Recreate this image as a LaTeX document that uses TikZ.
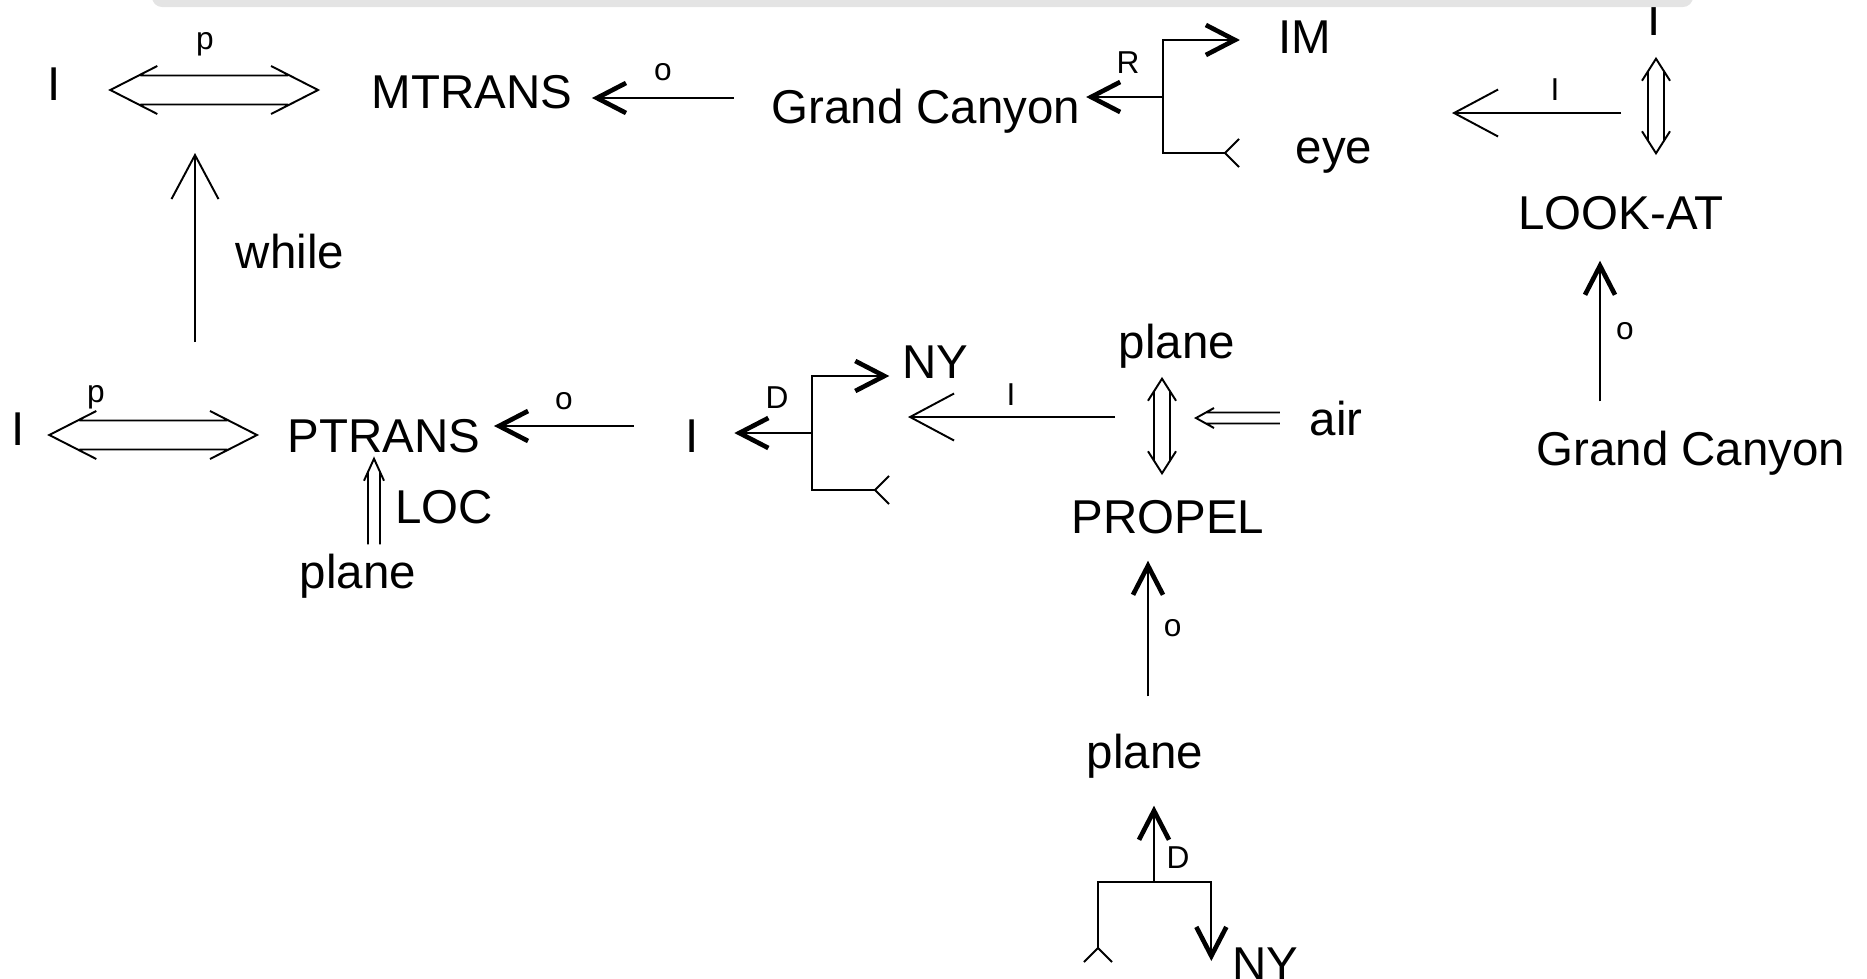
\documentclass[tikz,border=0pt]{standalone}
\usepackage{fontspec}
\setmainfont{Liberation Sans}
\usetikzlibrary{arrows.meta,positioning,calc}
\definecolor{barcol}{HTML}{E4E4E4}
\tikzset{
  lbl/.style={inner sep=0pt, anchor=base, text height=0.34cm, text depth=0.10cm, font=\fontsize{13.5}{16}\selectfont},
  tag/.style={inner sep=0pt, anchor=base, font=\fontsize{9}{11}\selectfont},
  olab/.style={inner sep=0pt, font=\fontsize{9}{11}\selectfont},
  link/.style={line width=0.55pt},
  act/.style={link, -{Straight Barb[length=0.29cm, width=0.30cm, line width=0pt 2.4]}},
  rel/.style={link, -{Straight Barb[length=0.44cm, width=0.47cm]}},
  fork/.style={link, -{Straight Barb[reversed, length=0.14cm, width=0.28cm]}},
  dbl len/.store in=\dbllen, dbl wid/.store in=\dblwid,
  dbl gap/.store in=\dblgap, dbl in/.store in=\dblin,
  bigdbl/.style={dbl len=0.47cm, dbl wid=0.24cm, dbl gap=0.145cm, dbl in=0.30cm},
  smalldbl/.style={dbl len=0.22cm, dbl wid=0.14cm, dbl gap=0.08cm, dbl in=0.126cm},
  locdbl/.style={dbl len=0.22cm, dbl wid=0.10cm, dbl gap=0.06cm, dbl in=0.13cm},
  airdbl/.style={dbl len=0.18cm, dbl wid=0.10cm, dbl gap=0.055cm, dbl in=0.10cm},
  dblone/.style={link, to path={
    ($(\tikztotarget)!\dbllen!(\tikztostart)$) coordinate (dbb)
    ($(\tikztotarget)!\dblin!(\tikztostart)$) coordinate (dbi)
    ($(\tikztostart)!\dblgap!90:(\tikztotarget)$) -- ($(dbi)!\dblgap!90:(\tikztotarget)$)
    ($(\tikztostart)!\dblgap!-90:(\tikztotarget)$) -- ($(dbi)!\dblgap!-90:(\tikztotarget)$)
    ($(dbb)!\dblwid!90:(\tikztotarget)$) -- (\tikztotarget) -- ($(dbb)!\dblwid!-90:(\tikztotarget)$)}},
  dbltwo/.style={link, to path={
    ($(\tikztotarget)!\dbllen!(\tikztostart)$) coordinate (dbb)
    ($(\tikztotarget)!\dblin!(\tikztostart)$) coordinate (dbi)
    ($(\tikztostart)!\dbllen!(\tikztotarget)$) coordinate (dbc)
    ($(\tikztostart)!\dblin!(\tikztotarget)$) coordinate (dbj)
    ($(dbj)!\dblgap!90:(\tikztotarget)$) -- ($(dbi)!\dblgap!90:(\tikztotarget)$)
    ($(dbj)!\dblgap!-90:(\tikztotarget)$) -- ($(dbi)!\dblgap!-90:(\tikztotarget)$)
    ($(dbc)!\dblwid!90:(\tikztotarget)$) -- (\tikztostart) -- ($(dbc)!\dblwid!-90:(\tikztotarget)$)
    ($(dbb)!\dblwid!90:(\tikztotarget)$) -- (\tikztotarget) -- ($(dbb)!\dblwid!-90:(\tikztotarget)$)}},
}
\begin{document}
\begin{tikzpicture}[x=0.01cm, y=-0.01cm]
  \useasboundingbox (0,0) rectangle (1867,978);
  % concepts, top row
  \node[lbl] (i1) at (54,100) {I};
  \node[lbl] (mtrans) at (472,108) {MTRANS};
  \node[lbl] (gc1) at (926,123) {Grand Canyon};
  \node[lbl] (im) at (1305,53) {IM};
  \node[lbl] (eye) at (1334,163) {eye};
  \node[lbl] (i2) at (1654,35) {I};
  \node[lbl] (lookat) at (1621,229) {LOOK-AT};
  \node[lbl] (gc2) at (1691,465) {Grand Canyon};
  \node[lbl] (whl) at (290,268) {while};
  % concepts, lower rows
  \node[lbl] (i3) at (18,445) {I};
  \node[lbl] (ptrans) at (384,452) {PTRANS};
  \node[lbl] (loc) at (444,523) {LOC};
  \node[lbl] (plane1) at (358,588) {plane};
  \node[lbl] (i4) at (692,452) {I};
  \node[lbl] (ny1) at (935,378) {NY};
  \node[lbl] (plane2) at (1177,358) {plane};
  \node[lbl] (air) at (1336,435) {air};
  \node[lbl] (propel) at (1168,533) {PROPEL};
  \node[lbl] (plane3) at (1145,768) {plane};
  \node[lbl] (ny2) at (1265,980) {NY};
  % small tags
  \node[tag] (ptag1) at (205,49) {p};
  \node[tag] (ptag2) at (96,402) {p};
  \node[tag] (rtag) at (1128,73) {R};
  \node[tag] (dtag1) at (777,408) {D};
  \node[tag] (dtag2) at (1178,868) {D};
  \node[tag] (itag1) at (1555,100) {I};
  \node[tag] (itag2) at (1011,405) {I};
  % hubs
  \coordinate (mtx) at (214.5,90);
  \coordinate (ptx) at (153.5,435);
  \coordinate (lkx) at (1656,106);
  \coordinate (prx) at (1162,426);
  \coordinate (rb) at (1163,97);
  \coordinate (db) at (812,433);
  \coordinate (dl) at (1154,882);
  \coordinate (dfree1) at (890,490);
  \coordinate (dfree2) at (1098,963);
  % two-way links
  \draw[dbltwo, bigdbl] ([shift={(49,2)}]i1.east) to ([shift={(-53,-6)}]mtrans.west);
  \draw[dbltwo, bigdbl] ([shift={(24,2)}]i3.east) to ([shift={(-30,-5)}]ptrans.west);
  \draw[dbltwo, smalldbl] ([shift={(2,13)}]i2.south) to ([shift={(35,-41)}]lookat.north);
  \draw[dbltwo, smalldbl] ([shift={(-15,10)}]plane2.south) to ([shift={(-6,-25)}]propel.north);
  % one-way links
  \draw[dblone, locdbl] ([shift={(16,-9)}]plane1.north) to ([shift={(-10,-4)}]ptrans.south);
  \draw[dblone, airdbl] ([shift={(-29,-5)}]air.west) to ([shift={(34,-8)}]prx);
  % acts
  \draw[act] ([shift={(-37,-13)}]gc1.west) -- node[olab, above=0.16cm] {o} ([shift={(19,2)}]mtrans.east);
  \draw[act] ([shift={(-51,-14)}]i4.west) -- node[olab, above=0.15cm] {o} ([shift={(13,-14)}]ptrans.east);
  \draw[act] ([shift={(-91,-29)}]gc2.north) -- node[olab, right=0.15cm] {o} ([shift={(-21,21)}]lookat.south);
  \draw[act] ([shift={(3,-37)}]plane3.north) -- node[olab, right=0.15cm] {o} ([shift={(-20,17)}]propel.south);
  % R branch
  \draw[act] (rb) -- ([shift={(5,-14)}]gc1.east);
  \draw[act] (rb) |- ([shift={(-38,-1)}]im.west);
  \draw[fork] (rb) |- ([shift={(-55,2)}]eye.west);
  % D branches
  \draw[act] (db) -- ([shift={(35,-7)}]i4.east);
  \draw[act] (db) |- ([shift={(-12,10)}]ny1.west);
  \draw[fork] (db) |- (dfree1);
  \draw[act] (dl) -- ([shift={(9,27)}]plane3.south);
  \draw[act] (dl) -| ([shift={(-20,-7)}]ny2.west);
  \draw[fork] (dl) -| (dfree2);
  % instruments and time link
  \draw[rel] ([shift={(-35,7)}]lkx) -- ([shift={(289,16)}]rb);
  \draw[rel] ([shift={(-47,-9)}]prx) -- ([shift={(96,-16)}]db);
  \draw[rel] ([shift={(41.5,-93)}]ptx) -- ([shift={(-19.5,63)}]mtx);
  % top bar
  \fill[barcol, rounded corners=0.1cm] (152,-20) rectangle (1693,7);
\end{tikzpicture}
\end{document}
